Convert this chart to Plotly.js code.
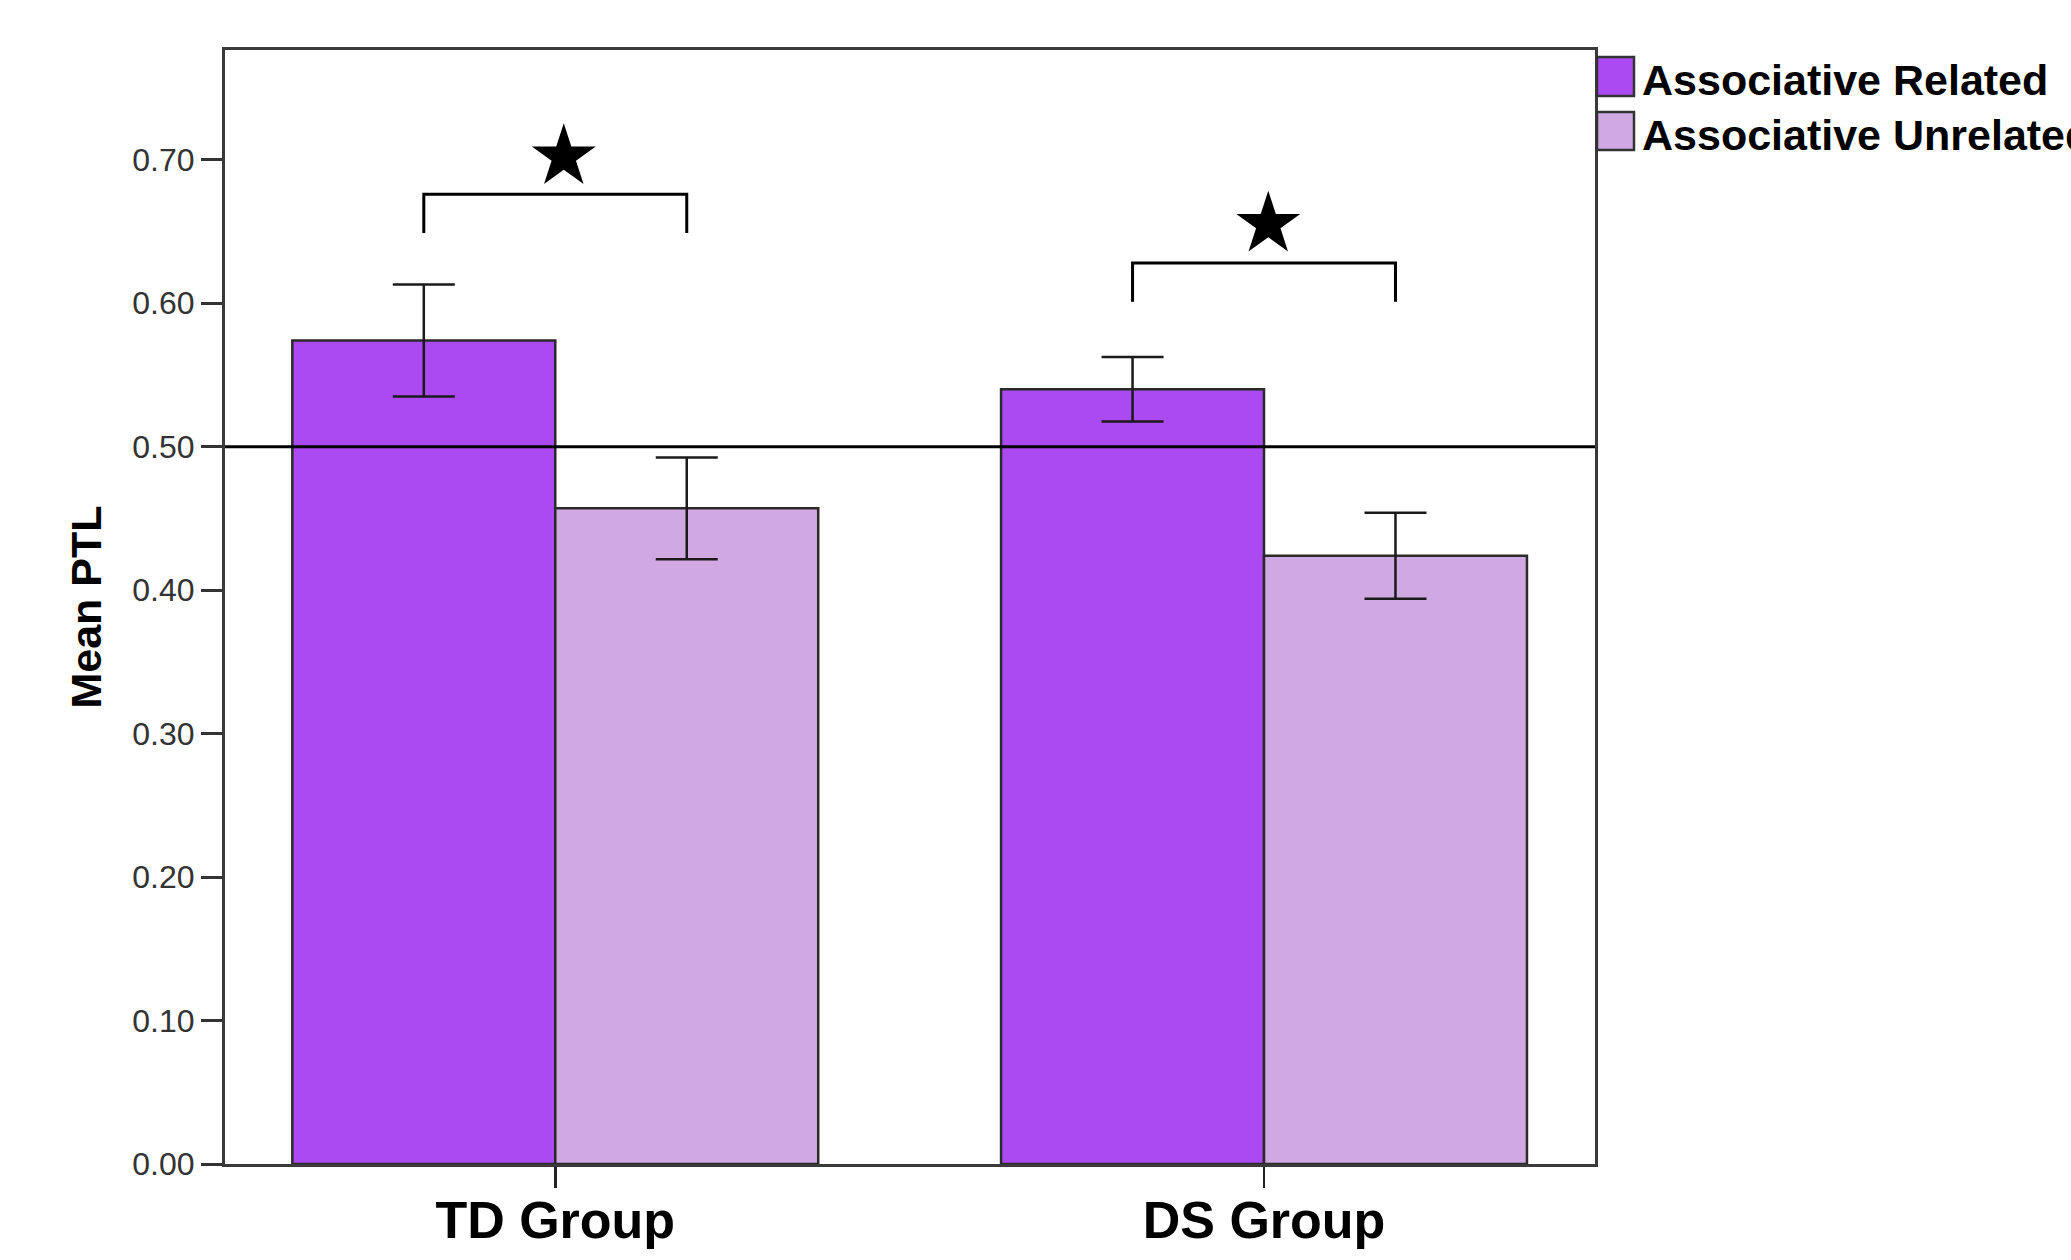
<!DOCTYPE html>
<html>
<head>
<meta charset="utf-8">
<script src="https://cdn.plot.ly/plotly-3.0.1.min.js"></script>
<style>html,body{margin:0;padding:0;background:#fff;}#chart{width:2071px;height:1260px;}</style>
</head>
<body>
<div id="chart"></div>
<script>
// ---- data ----
const categories = ['TD Group', 'DS Group'];
const seriesNames = ['Associative Related', 'Associative Unrelated'];
const relatedMeans = [0.574, 0.540];
const relatedErr = [0.039, 0.0225];
const unrelatedMeans = [0.457, 0.424];
const unrelatedErr = [0.0355, 0.030];
const chanceLevel = [0.5];
const bracketTop = [0.676, 0.628];
const bracketLegBottom = [0.649, 0.601];
const starX = [0.012, 1.006];   // category index positions of the significance stars
const starY = [0.702, 0.655];
const yTickVals = [0, 0.1, 0.2, 0.3, 0.4, 0.5, 0.6, 0.7];
const yTickText = ['0.00', '0.10', '0.20', '0.30', '0.40', '0.50', '0.60', '0.70'];

// ---- styles ----
const colors = ['#AB4AF0', '#D0A9E3'];
const bargap = 0.258;
const barHalf = (1 - bargap) / 4; // centre offset of each bar within a group
const xRange = [-0.466, 1.467];
const W = 2071, H = 1260;
const margin = {l: 225, r: 476, t: 50, b: 96};
const plotW = W - margin.l - margin.r, plotH = H - margin.t - margin.b;
const px2paperX = p => (p - margin.l) / plotW;
const px2paperY = p => 1 - (p - margin.t) / plotH;
const FONT = 'Liberation Sans, Arial, sans-serif';

const barLine = {color: '#2a2a2a', width: 2.5};
const errStyle = {type: 'data', visible: true, color: '#1a1a1a', thickness: 2.5, width: 31};

const traces = [
  {type: 'bar', name: seriesNames[0], x: categories, y: relatedMeans,
   marker: {color: colors[0], line: barLine},
   error_y: Object.assign({array: relatedErr}, errStyle), showlegend: false},
  {type: 'bar', name: seriesNames[1], x: categories, y: unrelatedMeans,
   marker: {color: colors[1], line: barLine},
   error_y: Object.assign({array: unrelatedErr}, errStyle), showlegend: false},
  {type: 'scatter', mode: 'markers', x: starX, y: starY, xaxis: 'x2', yaxis: 'y',
   marker: {symbol: 'star', size: 48, color: '#000', line: {width: 0}},
   showlegend: false, hoverinfo: 'skip'}
];

const shapes = [];
// reference line at chance level
chanceLevel.forEach(v => shapes.push({type: 'line', xref: 'paper', x0: 0, x1: 1, yref: 'y', y0: v, y1: v,
  line: {color: '#000', width: 3}, layer: 'above'}));
// significance brackets
categories.forEach((c, i) => {
  const x1 = i - barHalf, x2 = i + barHalf;
  shapes.push({type: 'path', xref: 'x2', yref: 'y', layer: 'above',
    path: `M ${x1},${bracketLegBottom[i]} L ${x1},${bracketTop[i]} L ${x2},${bracketTop[i]} L ${x2},${bracketLegBottom[i]}`,
    line: {color: '#000', width: 3}});
});

// custom legend (large swatches as in the reference)
const annotations = [];
const legendRowsPx = [[57, 96, 80], [112, 150, 135]];
seriesNames.forEach((n, i) => {
  const r = legendRowsPx[i];
  shapes.push({type: 'rect', xref: 'paper', yref: 'paper',
    x0: px2paperX(1597), x1: px2paperX(1634), y0: px2paperY(r[1]), y1: px2paperY(r[0]),
    fillcolor: colors[i], line: {color: '#333', width: 2.5}});
  annotations.push({xref: 'paper', yref: 'paper', x: px2paperX(1640), y: px2paperY(r[2]),
    xanchor: 'left', yanchor: 'middle', showarrow: false, text: '<b>' + n + '</b>',
    font: {family: FONT, size: 43, color: '#000'}});
});

const layout = {
  width: W, height: H, margin: margin,
  paper_bgcolor: '#fff', plot_bgcolor: '#fff',
  barmode: 'group', bargap: bargap, bargroupgap: 0,
  showlegend: false,
  font: {family: FONT, color: '#222'},
  xaxis: {type: 'category', range: xRange, showgrid: false, zeroline: false,
    showline: true, mirror: true, linecolor: '#3a3a3a', linewidth: 3,
    ticks: 'outside', ticklen: 21, tickwidth: 2.5, tickcolor: '#222',
    ticklabelstandoff: -12,
    tickfont: {family: FONT, size: 52, color: '#000', weight: 'bold'},
    automargin: false},
  xaxis2: {overlaying: 'x', range: xRange, visible: false, showgrid: false, zeroline: false,
    fixedrange: true},
  yaxis: {range: [0, 0.7765], showgrid: false, zeroline: false,
    showline: true, mirror: true, linecolor: '#3a3a3a', linewidth: 3,
    ticks: 'outside', ticklen: 21, tickwidth: 3, tickcolor: '#333',
    tickvals: yTickVals, ticktext: yTickText,
    tickfont: {family: FONT, size: 32, color: '#333'},
    title: {text: '<b>Mean PTL</b>', standoff: 18,
      font: {family: FONT, size: 43, color: '#000'}},
    automargin: false},
  shapes: shapes,
  annotations: annotations
};

Plotly.newPlot('chart', traces, layout, {staticPlot: true, displayModeBar: false});
</script>
</body>
</html>
